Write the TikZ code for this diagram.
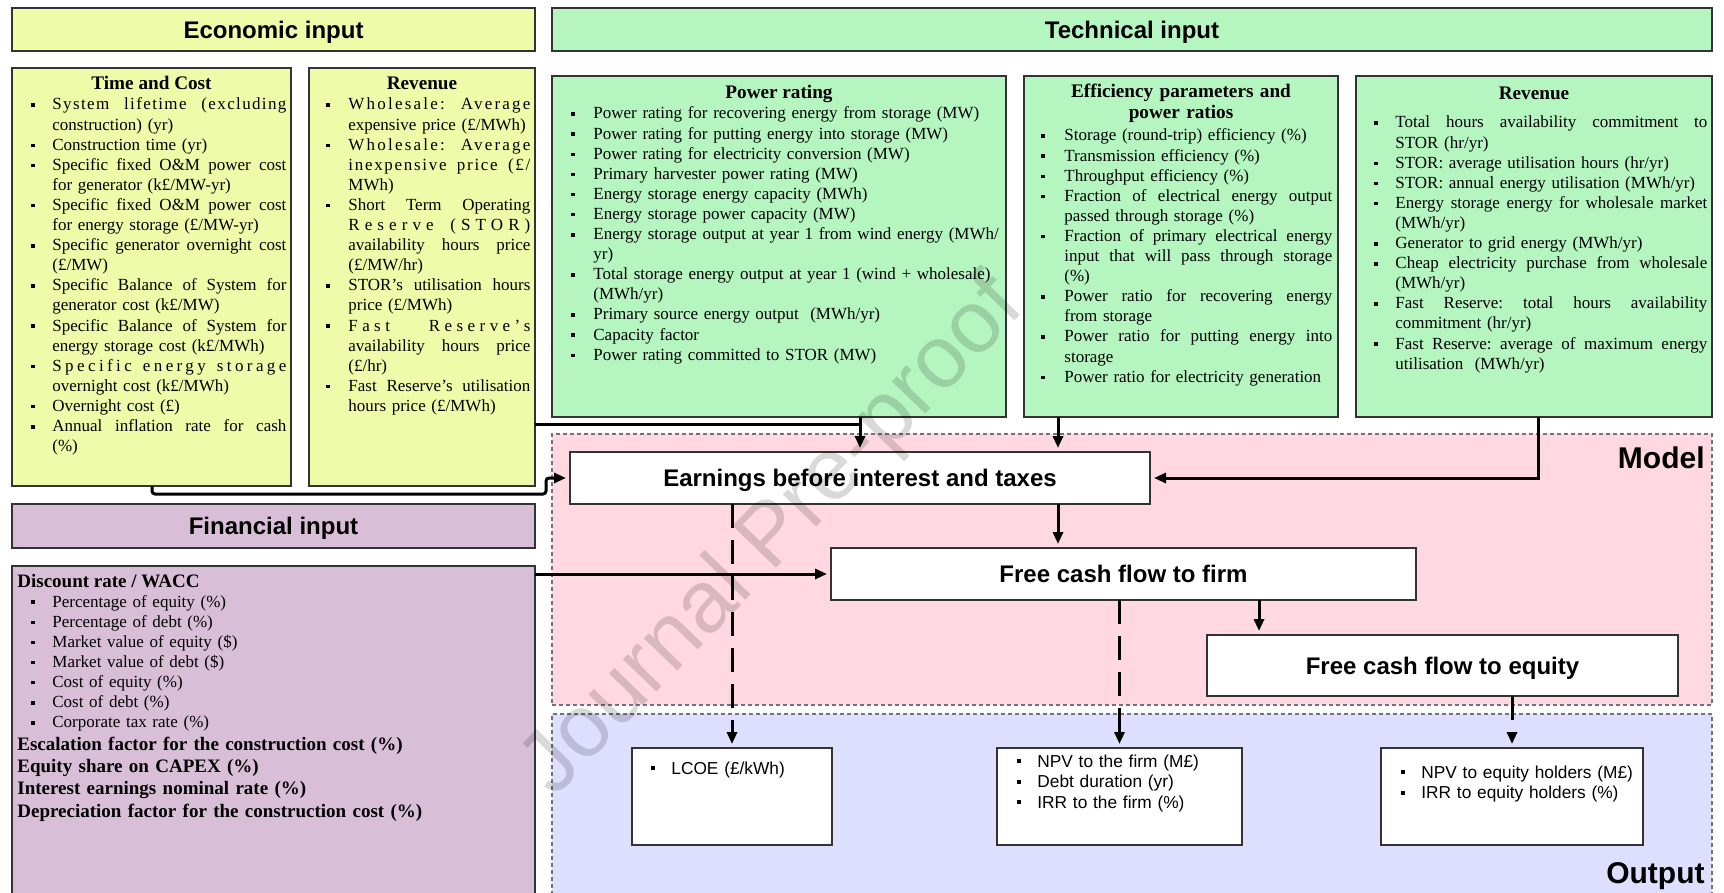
\documentclass[tikz,border=0pt]{standalone}
\usepackage{fontspec}
\setmainfont{Liberation Serif}
\setsansfont{Liberation Sans}
\usetikzlibrary{arrows.meta,calc}

\definecolor{econfill}{RGB}{238,252,170}
\definecolor{techfill}{RGB}{181,245,192}
\definecolor{finfill}{RGB}{216,190,214}
\definecolor{modelfill}{RGB}{255,216,225}
\definecolor{outfill}{RGB}{222,222,255}

% list layout: \Li = bullet indent, \Lw = width of a justified line
\newlength\Li
\newlength\Lw
\newcommand\bul{\rule[1.5pt]{1.8pt}{1.8pt}}
\newcommand\sbul{\rule[1.8pt]{2pt}{2pt}}
\newcommand\Bt{\makebox[\Li][l]{\bul}}
\newcommand\Bs{\makebox[\Li][l]{\sbul}}
\newcommand\Ct{\hspace*{\Li}}
% justified line: restore stretchable word spaces, optional tracking
\newcommand\J[2][0]{\makebox[\Lw][s]{\frenchspacing\spaceskip=0pt\xspaceskip=0pt\addfontfeature{LetterSpace=#1}#2}}

% rectangle node from pixel corners: style, name, x1, y1, x2, y2, text
\newcommand\rbox[7]{\node[#1, minimum width={(#5-#3)*0.5pt}, minimum height={(#6-#4)*0.5pt}] (#2) at ({(#3+#5)/2},{(#4+#6)/2}) {#7};}

\begin{document}
\begin{tikzpicture}[x=0.5pt,y=-0.5pt,
  box/.style={rectangle, draw=black!80, line width=0.7pt, inner sep=0pt, outer sep=0pt},
  econbox/.style={box, fill=econfill},
  techbox/.style={box, fill=techfill},
  finbox/.style={box, fill=finfill},
  calcbox/.style={box, fill=white, font=\sffamily\bfseries\fontsize{12}{14}\selectfont, text height=8.8pt, text depth=0pt},
  outbox/.style={box, fill=white},
  hdr/.style={font=\sffamily\bfseries\fontsize{12}{14}\selectfont, text height=8.8pt, text depth=0pt},
  region/.style={rectangle, draw=black!55, line width=0.6pt, dash pattern=on 2pt off 1.5pt, inner sep=0pt, outer sep=0pt},
  ttl/.style={font=\bfseries\fontsize{9.6}{10.5}\selectfont, inner sep=0pt, anchor=base},
  body/.style={font=\fontsize{8.5}{10.05}\selectfont, inner sep=0pt, anchor=base west, align=left},
  boldbody/.style={font=\bfseries\fontsize{9.5}{11.2}\selectfont, inner sep=0pt, anchor=base west, align=left},
  sbody/.style={font=\sffamily\fontsize{8.65}{10.25}\selectfont, inner sep=0pt, anchor=base west, align=left},
  bigtag/.style={font=\sffamily\bfseries\fontsize{15}{17}\selectfont, inner sep=0pt, anchor=base east},
  line/.style={line width=1.5pt},
  conn/.style={line, -{Triangle[length=6pt,width=5pt]}, shorten >=2pt},
  dconn/.style={conn, dash pattern=on 12pt off 6pt},
  wm/.style={font=\sffamily\fontsize{44}{44}\selectfont, text=black, opacity=0.15, rotate=46}
]
\useasboundingbox (0,0) rectangle (1724,893);
\fill[white] (0,0) rectangle (1724,893);

% ---------- background regions ----------
\rbox{region, fill=modelfill}{model}{552}{434}{1712}{705}{}
\rbox{region, fill=outfill}{output}{552}{714}{1712}{905}{}
\node[bigtag] (modelT) at (1705,468) {Model};
\node[bigtag] (outputT) at (1705,883) {Output};

% ---------- headers ----------
\rbox{econbox,hdr}{econ}{12}{8}{535}{51}{Economic input}
\rbox{techbox,hdr}{tech}{552}{8}{1712}{51}{Technical input}
\rbox{finbox,hdr}{finh}{12}{504}{535}{548}{Financial input}

% ---------- economic input ----------
\rbox{econbox}{tc}{12}{68}{291}{486}{}
\rbox{econbox}{rev1}{309}{68}{535}{486}{}
\node[ttl] (tcT) at ($(tc.north)+(0,22)$) {Time and Cost};
\node[ttl] (rev1T) at ($(rev1.north)+(0,22)$) {Revenue};

\setlength\Li{10.5pt}\setlength\Lw{117pt}
\node[body, text width=128pt] (tcL) at (31,110) {%
\Bt\J[8]{System lifetime (excluding}\\
\Ct construction) (yr)\\
\Bt Construction time (yr)\\
\Bt\J{Specific fixed O\&M power cost}\\
\Ct for generator (k£/MW-yr)\\
\Bt\J{Specific fixed O\&M power cost}\\
\Ct for energy storage (£/MW-yr)\\
\Bt\J{Specific generator overnight cost}\\
\Ct (£/MW)\\
\Bt\J{Specific Balance of System for}\\
\Ct generator cost (k£/MW)\\
\Bt\J{Specific Balance of System for}\\
\Ct energy storage cost (k£/MWh)\\
\Bt\J[20]{Specific energy storage}\\
\Ct overnight cost (k£/MWh)\\
\Bt Overnight cost (£)\\
\Bt\J{Annual inflation rate for cash}\\
\Ct (\%)};

\setlength\Li{11pt}\setlength\Lw{91pt}
\node[body, text width=102pt] (rev1L) at (326,110) {%
\Bt\J[13]{Wholesale: Average}\\
\Ct expensive price (£/MWh)\\
\Bt\J[13]{Wholesale: Average}\\
\Ct\J[10]{inexpensive price (£/}\\
\Ct MWh)\\
\Bt\J{Short Term Operating}\\
\Ct\J[30]{Reserve (STOR)}\\
\Ct\J{availability hours price}\\
\Ct (£/MW/hr)\\
\Bt\J{STOR’s utilisation hours}\\
\Ct price (£/MWh)\\
\Bt\J[26]{Fast Reserve’s}\\
\Ct\J{availability hours price}\\
\Ct (£/hr)\\
\Bt\J{Fast Reserve’s utilisation}\\
\Ct hours price (£/MWh)};

% ---------- technical input ----------
\rbox{techbox}{pr}{552}{76}{1006}{417}{}
\rbox{techbox}{eff}{1024}{76}{1338}{417}{}
\rbox{techbox}{rev2}{1356}{76}{1712}{417}{}
\node[ttl] (prT) at ($(pr.north)+(0,23)$) {Power rating};
\node[ttl, text width=150pt, align=center] (effT) at ($(eff.north)+(0,22)$) {Efficiency parameters and\\power ratios};
\node[ttl] (rev2T) at ($(rev2.north)+(0,24)$) {Revenue};

\setlength\Li{11pt}
\node[body, text width=215pt] (prL) at (571,119) {%
\Bt Power rating for recovering energy from storage (MW)\\
\Bt Power rating for putting energy into storage (MW)\\
\Bt Power rating for electricity conversion (MW)\\
\Bt Primary harvester power rating (MW)\\
\Bt Energy storage energy capacity (MWh)\\
\Bt Energy storage power capacity (MW)\\
\Bt Energy storage output at year 1 from wind energy (MWh/\\
\Ct yr)\\
\Bt Total storage energy output at year 1 (wind + wholesale)\\
\Ct (MWh/yr)\\
\Bt Primary source energy output\ \ (MWh/yr)\\
\Bt Capacity factor\\
\Bt Power rating committed to STOR (MW)};

\setlength\Li{11.5pt}\setlength\Lw{134pt}
\node[body, text width=146pt] (effL) at (1041,141) {%
\Bt Storage (round-trip) efficiency (\%)\\
\Bt Transmission efficiency (\%)\\
\Bt Throughput efficiency (\%)\\
\Bt\J{Fraction of electrical energy output}\\
\Ct passed through storage (\%)\\
\Bt\J{Fraction of primary electrical energy}\\
\Ct\J{input that will pass through storage}\\
\Ct (\%)\\
\Bt\J{Power ratio for recovering energy}\\
\Ct from storage\\
\Bt\J{Power ratio for putting energy into}\\
\Ct storage\\
\Bt Power ratio for electricity generation};

\setlength\Li{10.5pt}\setlength\Lw{156pt}
\node[body, text width=167pt] (rev2L) at (1374,128) {%
\Bt\J{Total hours availability commitment to}\\
\Ct STOR (hr/yr)\\
\Bt STOR: average utilisation hours (hr/yr)\\
\Bt STOR: annual energy utilisation (MWh/yr)\\
\Bt\J{Energy storage energy for wholesale market}\\
\Ct (MWh/yr)\\
\Bt Generator to grid energy (MWh/yr)\\
\Bt\J{Cheap electricity purchase from wholesale}\\
\Ct (MWh/yr)\\
\Bt\J{Fast Reserve: total hours availability}\\
\Ct commitment (hr/yr)\\
\Bt\J{Fast Reserve: average of maximum energy}\\
\Ct utilisation\ \ (MWh/yr)};

% ---------- financial input ----------
\rbox{finbox}{fin}{12}{566}{535}{905}{}
\node[boldbody] (finHead) at (17,587) {Discount rate / WACC};
\setlength\Li{10.5pt}
\node[body, text width=200pt] (finL) at (31,607) {%
\Bt Percentage of equity (\%)\\
\Bt Percentage of debt (\%)\\
\Bt Market value of equity (\$)\\
\Bt Market value of debt (\$)\\
\Bt Cost of equity (\%)\\
\Bt Cost of debt (\%)\\
\Bt Corporate tax rate (\%)};
\node[boldbody, text width=250pt] (finB) at (17,750) {%
Escalation factor for the construction cost (\%)\\
Equity share on CAPEX (\%)\\
Interest earnings nominal rate (\%)\\
Depreciation factor for the construction cost (\%)};

% ---------- model ----------
\rbox{calcbox}{ebit}{570}{452}{1150}{504}{Earnings before interest and taxes}
\rbox{calcbox}{fcff}{831}{548}{1416}{600}{Free cash flow to firm}
\rbox{calcbox}{fcfe}{1207}{635}{1678}{696}{Free cash flow to equity}

% ---------- outputs ----------
\rbox{outbox}{lcoe}{632}{748}{832}{845}{}
\rbox{outbox}{npvf}{997}{748}{1242}{845}{}
\rbox{outbox}{npve}{1381}{748}{1643}{845}{}
\setlength\Li{10pt}
\node[sbody, text width=85pt] (lcoeL) at (651,774) {\Bs LCOE (£/kWh)};
\node[sbody, text width=110pt] (npvfL) at (1017,767) {%
\Bs NPV to the firm (M£)\\
\Bs Debt duration (yr)\\
\Bs IRR to the firm (\%)};
\node[sbody, text width=120pt] (npveL) at (1401,778) {%
\Bs NPV to equity holders (M£)\\
\Bs IRR to equity holders (\%)};

% ---------- connectors ----------
\coordinate (tcdrop) at ($(tc.south west)+(140,0)$);
\coordinate (tcbend) at (546,494);
\draw[conn, rounded corners=1.5pt] (tcdrop) |- (tcbend) |- (ebit.west);

\coordinate (revtap) at ($(rev1.south east)+(0,-62)$);
\coordinate (prdrop) at (860,424);
\draw[line] (revtap) -- (prdrop);
\draw[conn] (pr.south -| prdrop) -- (prdrop |- ebit.north);

\coordinate (effdrop) at ($(eff.south west)+(34,0)$);
\draw[conn] (effdrop) -- (effdrop |- ebit.north);

\coordinate (trdrop) at ($(rev2.south west)+(182,0)$);
\draw[conn] (trdrop) |- (ebit.east);

\draw[conn] (ebit.south -| effdrop) -- (fcff.north -| effdrop);
\draw[conn] (fin.east |- fcff.west) -- (fcff.west);

\coordinate (eqdrop) at ($(fcfe.north west)+(52,0)$);
\draw[conn] (fcff.south -| eqdrop) -- (eqdrop);

\draw[dconn] (ebit.south -| lcoe.north) -- (lcoe.north);
\draw[dconn] (fcff.south -| npvf.north) -- (npvf.north);
\draw[dconn] (fcfe.south -| npve.north) -- (npve.north);

% ---------- watermark ----------
\node[wm] (wmark) at (774,538) {Journal Pre-proof};
\end{tikzpicture}
\end{document}
